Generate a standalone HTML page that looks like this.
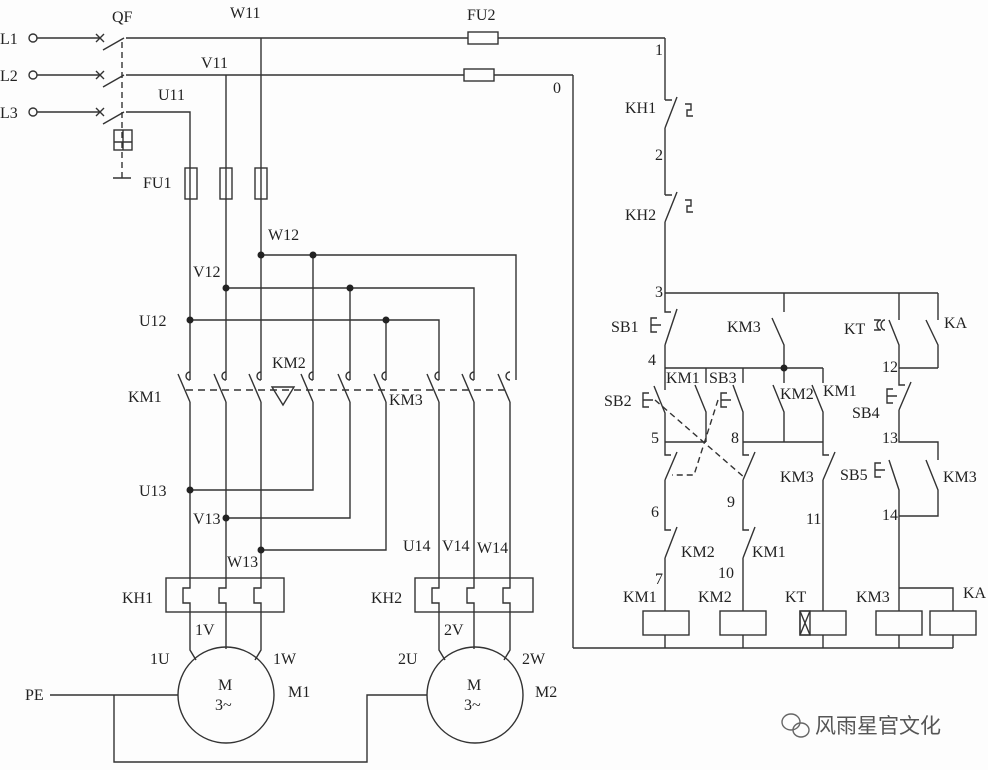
<!DOCTYPE html>
<html><head><meta charset="utf-8"><style>
html,body{margin:0;padding:0;background:#fff;}
svg{display:block}
text{font-family:"Liberation Serif",serif;font-size:16px;fill:#222}
</style></head><body>
<svg width="988" height="770" viewBox="0 0 988 770" xmlns="http://www.w3.org/2000/svg">
<rect width="988" height="770" fill="#fdfdfd"/>
<g stroke="#333" stroke-width="1.4" fill="none">
<circle cx="33" cy="38" r="4"/><circle cx="33" cy="75" r="4"/><circle cx="33" cy="112" r="4"/>
<path d="M37 38H100M37 75H100M37 112H100"/>
<path d="M96 34l8 8M104 34l-8 8M96 71l8 8M104 71l-8 8M96 108l8 8M104 108l-8 8"/>
<path d="M103 50L124 38M103 87L124 75M103 124L124 112"/>
<path d="M126 38H665M126 75H573M126 112H190V380"/>
<path d="M122 42V180" stroke-dasharray="6,4"/>
<rect x="114" y="130" width="18" height="20"/><path d="M114 142H132M123 130V150M113 178H131"/>
<rect x="468" y="32" width="30" height="12" fill="#fdfdfd"/>
<rect x="464" y="69" width="30" height="12" fill="#fdfdfd"/>
<path d="M573 75V648"/>
<path d="M226 75V380M261 38V380"/>
<rect x="185" y="168" width="12" height="31"/><rect x="220" y="168" width="12" height="31"/><rect x="255" y="168" width="12" height="31"/>
<path d="M261 255H516V380M226 288H474V380M190 320H439V380M313 255V380M350 288V380M386 320V380"/>
<g>
<path d="M178 374L190 402M214 374L226 402M249 374L261 402M301 374L313 402M338 374L350 402M374 374L386 402M427 374L439 402M462 374L474 402M498 374L510 402"/>
<path d="M190 372a4 4 0 1 0 0 8M226 372a4 4 0 1 0 0 8M261 372a4 4 0 1 0 0 8M313 372a4 4 0 1 0 0 8M350 372a4 4 0 1 0 0 8M386 372a4 4 0 1 0 0 8M439 372a4 4 0 1 0 0 8M474 372a4 4 0 1 0 0 8M510 372a4 4 0 1 0 0 8"/>
<path d="M186 390H508" stroke-dasharray="7,5"/>
<path d="M272 387H294L283 405Z"/>
</g>
<path d="M190 402V588H183V603H190V650L196 660M226 402V588H219V603H226V649M261 402V588H254V603H261V650L255 660"/>
<path d="M313 402V490H190M350 402V518H226M386 402V550H261"/>
<path d="M439 402V588H432V603H439V650L445 660M474 402V588H467V603H474V649M510 402V588H503V603H510V650L504 660"/>
<rect x="166" y="578" width="118" height="34"/><rect x="415" y="578" width="118" height="34"/>
<circle cx="226" cy="695" r="48"/><circle cx="475" cy="695" r="48"/>
<path d="M50 695H178M114 695V762H367V695H427"/>
<path d="M665 38V100M672 100H665M665 128L677 97M665 128V195M672 195H665M665 222L677 192M665 222V293"/>
<path d="M685 104h6v6h-4v6h6M685 200h6v6h-4v6h6"/>
<path d="M665 293H938M784 293V312M899 293V320M938 293V320"/>
<path d="M665 293V312H671M665 345L677 309M665 345V368M657 318h-6v14h6M651 325h10"/>
<path d="M772 318L784 345V368"/>
<path d="M665 368H823M665 368V390M706 368V383M743 368V383M784 368V383M823 368V383"/>
<path d="M654 386L665 413V442M695 385L706 412V442M733 385L743 412V442M773 385L784 412V442M812 385L823 412V442"/>
<path d="M649 393h-6v14h6M643 400h10M727 393h-6v14h6M721 400h10"/>
<path d="M665 442H706M743 442H823"/>
<path d="M665 442V455H671M665 480L677 452M665 480V530H671M665 558L677 527M665 558V611"/>
<path d="M743 442V455H749M743 480L755 452M743 480V530H749M743 558L755 527M743 558V611"/>
<path d="M823 442V455H829M823 480L835 452M823 480V611"/>
<path d="M655 400L745 478M718 400L694 475H672" stroke-dasharray="6,4"/>
<path d="M889 320L899 345V368H938M926 320L938 345V368M899 368V385H905M899 410L911 382M899 410V442H938V460M889 460L899 490V611M926 460L938 490V516H899M899 588H953V611"/>
<path d="M880 320h-6M874 330h6M881 320a4 5 0 0 0 0 10M885 320a4 5 0 0 0 0 10"/>
<path d="M893 389h-6v14h6M887 396h10M881 463h-6v14h6M875 470h10"/>
<rect x="643" y="611" width="46" height="24"/><rect x="720" y="611" width="46" height="24"/><rect x="800" y="611" width="46" height="24"/><rect x="800" y="611" width="10" height="24"/><path d="M800 611L810 635M810 611L800 635"/>
<rect x="876" y="611" width="46" height="24"/><rect x="930" y="611" width="46" height="24"/>
<path d="M665 635V648M743 635V648M823 635V648M899 635V648M953 635V648M573 648H953"/>
</g>
<g fill="#222">
<circle cx="261" cy="255" r="3.5"/><circle cx="313" cy="255" r="3.5"/><circle cx="226" cy="288" r="3.5"/><circle cx="350" cy="288" r="3.5"/><circle cx="190" cy="320" r="3.5"/><circle cx="386" cy="320" r="3.5"/>
<circle cx="190" cy="490" r="3.5"/><circle cx="226" cy="518" r="3.5"/><circle cx="261" cy="550" r="3.5"/><circle cx="784" cy="368" r="3.5"/>
</g>
<g>
<text x="0" y="44">L1</text><text x="0" y="81">L2</text><text x="0" y="118">L3</text>
<text x="112" y="22">QF</text><text x="230" y="18">W11</text><text x="201" y="68">V11</text><text x="158" y="100">U11</text>
<text x="467" y="20">FU2</text><text x="143" y="188">FU1</text><text x="655" y="55">1</text><text x="553" y="93">0</text>
<text x="268" y="240">W12</text><text x="193" y="277">V12</text><text x="139" y="326">U12</text>
<text x="272" y="368">KM2</text><text x="128" y="402">KM1</text><text x="389" y="405">KM3</text>
<text x="139" y="496">U13</text><text x="193" y="524">V13</text><text x="227" y="567">W13</text>
<text x="403" y="551">U14</text><text x="442" y="551">V14</text><text x="477" y="553">W14</text>
<text x="122" y="603">KH1</text><text x="371" y="603">KH2</text>
<text x="195" y="635">1V</text><text x="444" y="635">2V</text>
<text x="150" y="664">1U</text><text x="273" y="664">1W</text><text x="398" y="664">2U</text><text x="522" y="664">2W</text>
<text x="218" y="690">M</text><text x="215" y="710">3~</text><text x="467" y="690">M</text><text x="464" y="710">3~</text>
<text x="288" y="697">M1</text><text x="535" y="697">M2</text><text x="25" y="700">PE</text>
<text x="625" y="113">KH1</text><text x="655" y="160">2</text><text x="625" y="220">KH2</text><text x="655" y="297">3</text>
<text x="611" y="332">SB1</text><text x="727" y="332">KM3</text><text x="844" y="334">KT</text><text x="944" y="328">KA</text>
<text x="648" y="365">4</text><text x="882" y="372">12</text>
<text x="666" y="383">KM1</text><text x="709" y="383">SB3</text><text x="604" y="406">SB2</text>
<text x="780" y="399">KM2</text><text x="823" y="396">KM1</text><text x="852" y="418">SB4</text>
<text x="651" y="443">5</text><text x="731" y="443">8</text><text x="882" y="443">13</text>
<text x="780" y="482">KM3</text><text x="840" y="480">SB5</text><text x="943" y="482">KM3</text>
<text x="651" y="517">6</text><text x="727" y="507">9</text><text x="806" y="524">11</text><text x="882" y="520">14</text>
<text x="681" y="557">KM2</text><text x="752" y="557">KM1</text><text x="655" y="584">7</text><text x="718" y="578">10</text>
<text x="623" y="602">KM1</text><text x="698" y="602">KM2</text><text x="785" y="602">KT</text><text x="856" y="602">KM3</text><text x="963" y="598">KA</text>
</g>
<g stroke="#666" stroke-width="1.4" fill="none"><ellipse cx="791" cy="722" rx="9" ry="8"/><ellipse cx="801" cy="730" rx="8" ry="7"/></g>
<text x="815" y="733" style="font-family:'Liberation Sans','Noto Sans CJK SC',sans-serif;font-size:21px;fill:#555">风雨星官文化</text>
</svg>
</body></html>
